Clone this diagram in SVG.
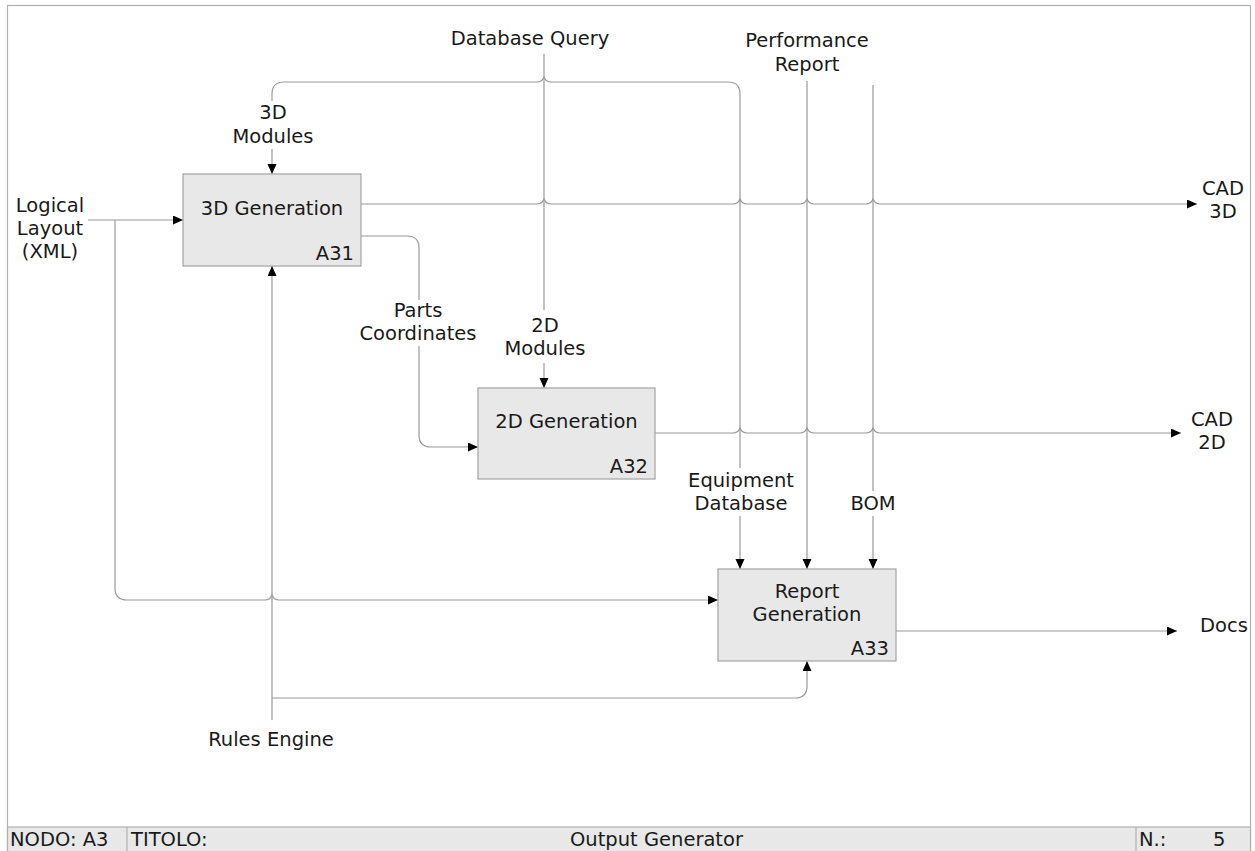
<svg xmlns="http://www.w3.org/2000/svg" width="1255" height="851" viewBox="0 0 1255 851">
<style>
text{font-family:"DejaVu Sans","Verdana",sans-serif;font-size:19.5px;fill:#1a1a1a}
.c{text-anchor:middle}
.e{text-anchor:end}
.box{fill:#e8e8e8;stroke:#a3a3a3;stroke-width:1.2}
.ln{fill:none;stroke:#9a9a9a;stroke-width:1.2}
.ft{font-size:19.5px}
</style>
<defs>
<marker id="ah" markerUnits="userSpaceOnUse" markerWidth="11" markerHeight="10" refX="10" refY="4.5" orient="auto">
<path d="M0,0 L10,4.5 L0,9 z" fill="#000"/>
</marker>
</defs>
<rect x="0" y="0" width="1255" height="851" fill="#fff"/>
<rect x="7.5" y="5.5" width="1243" height="850" fill="none" stroke="#b0b0b0" stroke-width="1.2"/>

<g id="connectors">
<!-- Logical Layout -> A31, branch to A33 -->
<path class="ln" d="M88,220 H183" marker-end="url(#ah)"/>
<path class="ln" d="M115,220 V588 Q115,600 127,600 H265 Q270,600 272,595 Q274,600 279,600 H718" marker-end="url(#ah)"/>
<!-- Rules Engine -->
<path class="ln" d="M272,720 V266" marker-end="url(#ah)"/>
<path class="ln" d="M272,698 H795 Q807,698 807,686 V661" marker-end="url(#ah)"/>
<!-- Database Query / 2D Modules -->
<path class="ln" d="M544,54 V310"/>
<path class="ln" d="M544,363 V388" marker-end="url(#ah)"/>
<!-- 3D Modules / Equipment Database -->
<path class="ln" d="M272,101 V94 Q272,82 284,82 H537 Q542,82 544,77 Q546,82 551,82 H728 Q740,82 740,94 V468"/>
<path class="ln" d="M272,149 V174" marker-end="url(#ah)"/>
<path class="ln" d="M740,516 V569" marker-end="url(#ah)"/>
<!-- Performance Report -->
<path class="ln" d="M807,81 V569" marker-end="url(#ah)"/>
<!-- BOM -->
<path class="ln" d="M873,85 V491"/>
<path class="ln" d="M873,516 V569" marker-end="url(#ah)"/>
<!-- A31 -> CAD 3D -->
<path class="ln" d="M361,204 H537 Q542,204 544,199 Q546,204 551,204 H733 Q738,204 740,199 Q742,204 747,204 H800 Q805,204 807,199 Q809,204 814,204 H866 Q871,204 873,199 Q875,204 880,204 H1197" marker-end="url(#ah)"/>
<!-- Parts Coordinates -->
<path class="ln" d="M361,236 H407 Q419,236 419,248 V300"/>
<path class="ln" d="M419,346 V435 Q419,447 431,447 H478" marker-end="url(#ah)"/>
<!-- A32 -> CAD 2D -->
<path class="ln" d="M655,433 H733 Q738,433 740,428 Q742,433 747,433 H800 Q805,433 807,428 Q809,433 814,433 H866 Q871,433 873,428 Q875,433 880,433 H1181" marker-end="url(#ah)"/>
<!-- A33 -> Docs -->
<path class="ln" d="M896,631 H1177" marker-end="url(#ah)"/>
</g>

<g id="A31">
<rect class="box" x="183" y="174" width="178" height="92"/>
<text class="c" x="272" y="215">3D Generation</text>
<text class="e" x="354" y="260">A31</text>
</g>
<g id="A32">
<rect class="box" x="478" y="388" width="177" height="91"/>
<text class="c" x="566.5" y="428">2D Generation</text>
<text class="e" x="648" y="473">A32</text>
</g>
<g id="A33">
<rect class="box" x="718" y="569" width="178" height="92"/>
<text class="c" x="807" y="598">Report</text>
<text class="c" x="807" y="621">Generation</text>
<text class="e" x="889" y="655">A33</text>
</g>

<g id="labels">
<text class="c" x="50" y="212">Logical</text>
<text class="c" x="50" y="235">Layout</text>
<text class="c" x="50" y="258">(XML)</text>
<text class="c" x="273" y="119">3D</text>
<text class="c" x="273" y="143">Modules</text>
<text class="c" x="530" y="45">Database Query</text>
<text class="c" x="807" y="47">Performance</text>
<text class="c" x="807" y="71">Report</text>
<text class="c" x="418" y="317">Parts</text>
<text class="c" x="418" y="340">Coordinates</text>
<text class="c" x="545" y="332">2D</text>
<text class="c" x="545" y="355">Modules</text>
<text class="c" x="741" y="487">Equipment</text>
<text class="c" x="741" y="510">Database</text>
<text class="c" x="873" y="510">BOM</text>
<text class="c" x="1223" y="195">CAD</text>
<text class="c" x="1223" y="218">3D</text>
<text class="c" x="1212" y="426">CAD</text>
<text class="c" x="1212" y="449">2D</text>
<text x="1200" y="632">Docs</text>
<text class="c" x="271" y="746">Rules Engine</text>
</g>

<g id="footer">
<rect x="7.5" y="827" width="1243" height="30" fill="#e8e8e8" stroke="#b0b0b0" stroke-width="1.2"/>
<line x1="127" y1="827" x2="127" y2="851" stroke="#b0b0b0" stroke-width="1.2"/>
<line x1="1136" y1="827" x2="1136" y2="851" stroke="#b0b0b0" stroke-width="1.2"/>
<text class="ft" x="10" y="846">NODO: A3</text>
<text class="ft" x="131" y="846">TITOLO:</text>
<text class="ft" x="570" y="846">Output Generator</text>
<text class="ft" x="1139" y="846">N.:</text>
<text class="ft" x="1213" y="846">5</text>
</g>
</svg>
